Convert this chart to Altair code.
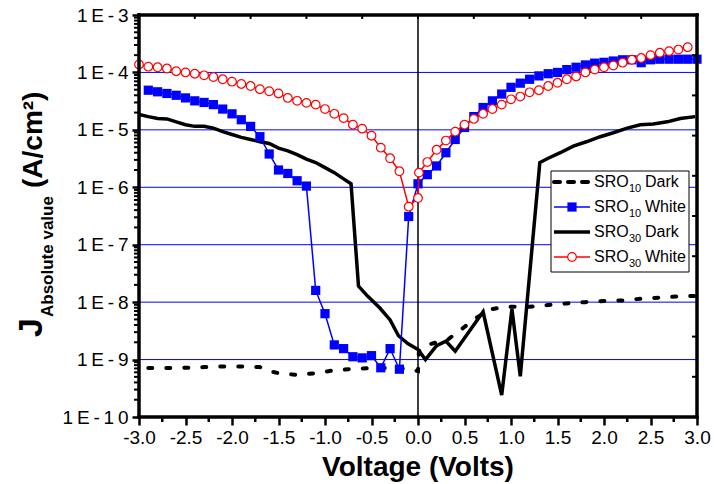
import altair as alt
import pandas as pd

# ---------------- data ----------------
v_sro10_dark = [-2.9, -2.7, -2.5, -2.3, -2.1, -1.9, -1.7, -1.6, -1.5, -1.3, -1.1, -0.9,
                -0.7, -0.5, -0.3, -0.1, 0.0, 0.01, 0.1, 0.2, 0.3, 0.4, 0.5, 0.6, 0.7,
                0.8, 0.9, 1.0, 1.2, 1.4, 1.6, 1.8, 2.0, 2.2, 2.4, 2.6, 2.8, 3.0]
j_sro10_dark = [7.1e-10, 7.1e-10, 7.2e-10, 7.4e-10, 7.6e-10, 7.6e-10, 7.4e-10, 6.3e-10, 5.8e-10,
                5.4e-10, 5.8e-10, 6.5e-10, 6.9e-10, 7.1e-10, 7.1e-10, 6.9e-10, 6.3e-10, 1.4e-9,
                1.8e-9, 2.0e-9, 2.1e-9, 2.8e-9, 3.7e-9, 5.0e-9, 6.3e-9, 7.6e-9, 8.1e-9,
                8.3e-9, 8.3e-9, 8.9e-9, 9.5e-9, 1.0e-8, 1.05e-8, 1.07e-8, 1.15e-8, 1.2e-8,
                1.26e-8, 1.29e-8]

v_sro10_white = [-2.9, -2.8, -2.7, -2.6, -2.5, -2.4, -2.3, -2.2, -2.1, -2.0, -1.9, -1.8, -1.7,
                 -1.6, -1.5, -1.4, -1.3, -1.2, -1.1, -1.0, -0.9, -0.8, -0.7, -0.6, -0.5, -0.4,
                 -0.3, -0.2, -0.1, 0.0, 0.1, 0.2, 0.3, 0.4, 0.5, 0.6, 0.7, 0.8, 0.9, 1.0, 1.1,
                 1.2, 1.3, 1.4, 1.5, 1.6, 1.7, 1.8, 1.9, 2.0, 2.1, 2.2, 2.3, 2.4, 2.5, 2.6,
                 2.7, 2.8, 2.9, 3.0]
j_sro10_white = [4.9e-5, 4.6e-5, 4.3e-5, 4.0e-5, 3.6e-5, 3.2e-5, 3.0e-5, 2.75e-5, 2.3e-5,
                 1.9e-5, 1.5e-5, 1.15e-5, 7.6e-6, 3.8e-6, 2.0e-6, 1.74e-6, 1.3e-6, 1.05e-6,
                 1.6e-8, 6.3e-9, 1.8e-9, 1.55e-9, 1.12e-9, 1.07e-9, 1.17e-9, 7.2e-10, 1.55e-9,
                 6.8e-10, 3.1e-7, 1.15e-6, 1.66e-6, 2.35e-6, 4.0e-6, 6.8e-6, 1.1e-5, 1.7e-5,
                 2.45e-5, 3.2e-5, 4.2e-5, 5.5e-5, 6.5e-5, 7.6e-5, 8.7e-5, 9.5e-5, 1.0e-4,
                 1.12e-4, 1.23e-4, 1.35e-4, 1.45e-4, 1.5e-4, 1.58e-4, 1.66e-4, 1.66e-4,
                 1.48e-4, 1.66e-4, 1.7e-4, 1.7e-4, 1.7e-4, 1.7e-4, 1.7e-4]

v_sro30_dark = [-3.0, -2.9, -2.8, -2.7, -2.6, -2.5, -2.4, -2.3, -2.2, -2.1, -2.0, -1.9, -1.8,
                -1.7, -1.6, -1.5, -1.4, -1.3, -1.2, -1.1, -1.0, -0.9, -0.8, -0.72, -0.64,
                -0.54, -0.41, -0.3, -0.21, -0.11, 0.0, 0.08, 0.2, 0.3, 0.4, 0.7, 0.9, 1.01,
                1.1, 1.31, 1.4, 1.53, 1.67, 1.81, 1.96, 2.1, 2.25, 2.39, 2.53, 2.68, 2.82,
                2.98]
j_sro30_dark = [1.86e-5, 1.7e-5, 1.58e-5, 1.55e-5, 1.38e-5, 1.23e-5, 1.15e-5, 1.15e-5, 1.07e-5,
                9.3e-6, 8.3e-6, 7.4e-6, 6.8e-6, 6.2e-6, 5.8e-6, 4.8e-6, 4.3e-6, 3.7e-6,
                3.1e-6, 2.7e-6, 2.2e-6, 1.8e-6, 1.4e-6, 1.15e-6, 1.9e-8, 1.26e-8, 7.9e-9,
                4.9e-9, 2.6e-9, 1.9e-9, 1.5e-9, 1.0e-9, 1.75e-9, 2.1e-9, 1.4e-9, 6.8e-9,
                2.4e-10, 7.6e-9, 5.1e-10, 2.7e-6, 3.2e-6, 4.0e-6, 5.2e-6, 6.2e-6, 7.6e-6,
                8.9e-6, 1.07e-5, 1.23e-5, 1.26e-5, 1.38e-5, 1.58e-5, 1.7e-5]

v_sro30_white = [-3.0, -2.9, -2.8, -2.7, -2.6, -2.5, -2.4, -2.3, -2.2, -2.1, -2.0, -1.9, -1.8,
                 -1.7, -1.6, -1.5, -1.4, -1.3, -1.2, -1.1, -1.0, -0.9, -0.8, -0.7, -0.6, -0.5,
                 -0.4, -0.3, -0.2, -0.1, 0.0, 0.01, 0.1, 0.2, 0.3, 0.4, 0.5, 0.6, 0.7, 0.8,
                 0.9, 1.0, 1.1, 1.2, 1.3, 1.4, 1.5, 1.6, 1.7, 1.8, 1.9, 2.0, 2.1, 2.2, 2.3,
                 2.4, 2.5, 2.6, 2.7, 2.8, 2.9]
j_sro30_white = [1.38e-4, 1.26e-4, 1.23e-4, 1.17e-4, 1.05e-4, 1.0e-4, 9.5e-5, 8.9e-5, 8.3e-5,
                 7.6e-5, 6.9e-5, 6.3e-5, 5.8e-5, 5.1e-5, 4.7e-5, 4.3e-5, 3.6e-5, 3.2e-5,
                 2.95e-5, 2.75e-5, 2.3e-5, 1.9e-5, 1.6e-5, 1.23e-5, 1.05e-5, 7.9e-6, 4.9e-6,
                 3.2e-6, 1.9e-6, 4.6e-7, 6.5e-7, 1.8e-6, 2.75e-6, 4.5e-6, 6.5e-6, 9.3e-6,
                 1.23e-5, 1.55e-5, 1.9e-5, 2.3e-5, 2.75e-5, 3.4e-5, 3.8e-5, 4.5e-5, 4.9e-5,
                 5.8e-5, 6.6e-5, 7.6e-5, 8.5e-5, 1.0e-4, 1.12e-4, 1.23e-4, 1.32e-4, 1.48e-4,
                 1.66e-4, 1.78e-4, 2.0e-4, 2.2e-4, 2.35e-4, 2.5e-4, 2.75e-4]

x_tick_labels = [-3.0, -2.5, -2.0, -1.5, -1.0, -0.5, 0.0, 0.5, 1.0, 1.5, 2.0, 2.5, 3.0]
x_minor = [-2.75, -2.25, -1.75, -1.25, -0.75, -0.25, 0.25, 0.75, 1.25, 1.75, 2.25, 2.75]
x_top_ticks = [-2.4, -1.8, -1.2, -0.6, 0.0, 0.6, 1.2, 1.8, 2.4]
y_tick_labels = [1e-10, 1e-9, 1e-8, 1e-7, 1e-6, 1e-5, 1e-4, 1e-3]
y_grid = [1e-9, 1e-8, 1e-7, 1e-6, 1e-5, 1e-4]
y_minor = [k * d for d in [1e-10, 1e-9, 1e-8, 1e-7, 1e-6, 1e-5, 1e-4] for k in range(2, 10)]
y_right_ticks = [10 ** (-3 - 0.7 * k) for k in range(1, 10)]

legend_entries = [("10", "Dark"), ("10", "White"), ("30", "Dark"), ("30", "White")]

# ---------------- build tables ----------------
def table(vs, js):
    return pd.DataFrame({"V": vs, "J": js, "order": list(range(len(vs)))})

d10d = table(v_sro10_dark, j_sro10_dark)
d10w = table(v_sro10_white, j_sro10_white)
d30d = table(v_sro30_dark, j_sro30_dark)
d30w = table(v_sro30_white, j_sro30_white)

W, H = 558, 402
BLUE = "#0000ff"
FONT = "Liberation Sans"

xs = alt.Scale(domain=[-3, 3], nice=False, zero=False)
ys = alt.Scale(type="log", domain=[1e-10, 1e-3], nice=False)

xa = alt.Axis(values=x_tick_labels, title=None, grid=False, domain=False,
              labelExpr="(datum.value < 0 ? '-' : '') + format(abs(datum.value), '.1f')",
              tickSize=8, tickWidth=2.5, tickColor="black", labelColor="black",
              labelFontSize=19, labelFont=FONT, labelPadding=3, labelFlush=False,
              labelOverlap=False)
ya = alt.Axis(values=y_tick_labels, title=None, grid=False, domain=False,
              labelExpr="join(split('1E' + round(log(datum.value) / LN10), ''), '\u2009')",
              tickSize=7, tickWidth=2.5, tickColor="black", labelColor="black",
              labelFontSize=19, labelFont=FONT, labelPadding=4, labelOverlap=False)

X = alt.X("V:Q", scale=xs, axis=xa)
Y = alt.Y("J:Q", scale=ys, axis=ya)

one = pd.DataFrame({"a": [0]})

layers = []

# grid lines and zero line
layers.append(alt.Chart(pd.DataFrame({"J": y_grid})).mark_rule(color=BLUE, strokeWidth=1)
              .encode(y=Y, x=alt.value(0), x2=alt.value(W)))
layers.append(alt.Chart(pd.DataFrame({"V": [0.0]})).mark_rule(color="black", strokeWidth=1.5)
              .encode(x=X, y=alt.value(0), y2=alt.value(H)))

# data
layers.append(alt.Chart(d10d).mark_line(color="black", strokeWidth=4, strokeDash=[4, 14],
                                        strokeCap="round", clip=True)
              .encode(x=X, y=Y, order="order:Q"))
layers.append(alt.Chart(d30d).mark_line(color="black", strokeWidth=3.5, clip=True)
              .encode(x=X, y=Y, order="order:Q"))
layers.append(alt.Chart(d10w).mark_line(color=BLUE, strokeWidth=1.5, clip=True)
              .encode(x=X, y=Y, order="order:Q"))
layers.append(alt.Chart(d10w).mark_point(shape="square", filled=True, color=BLUE, size=85,
                                         opacity=1)
              .encode(x=X, y=Y))
layers.append(alt.Chart(d30w).mark_line(color="red", strokeWidth=1.5, clip=True)
              .encode(x=X, y=Y, order="order:Q"))
layers.append(alt.Chart(d30w).mark_point(shape="circle", filled=True, fill="white",
                                         stroke="red", strokeWidth=1.2, size=75, opacity=1)
              .encode(x=X, y=Y))

# minor / secondary ticks
layers.append(alt.Chart(pd.DataFrame({"J": y_minor})).mark_rule(color="black", strokeWidth=2)
              .encode(y=Y, x=alt.value(-5), x2=alt.value(0)))
layers.append(alt.Chart(pd.DataFrame({"V": x_minor})).mark_rule(color="black", strokeWidth=2.5)
              .encode(x=X, y=alt.value(H), y2=alt.value(H + 5)))
layers.append(alt.Chart(pd.DataFrame({"V": x_top_ticks})).mark_rule(color="black", strokeWidth=2)
              .encode(x=X, y=alt.value(0), y2=alt.value(4)))
layers.append(alt.Chart(pd.DataFrame({"J": y_right_ticks})).mark_rule(color="black", strokeWidth=2)
              .encode(y=Y, x=alt.value(W - 5), x2=alt.value(W)))

# frame
for enc in [dict(x=alt.value(0), x2=alt.value(W), y=alt.value(0)),
            dict(x=alt.value(0), x2=alt.value(W), y=alt.value(H)),
            dict(y=alt.value(0), y2=alt.value(H), x=alt.value(0)),
            dict(y=alt.value(0), y2=alt.value(H), x=alt.value(W))]:
    layers.append(alt.Chart(one).mark_rule(color="black", strokeWidth=3.5, strokeCap="square")
                  .encode(**enc))

# legend
LX0, LX1, LY0, LY1 = 412, 550, 156, 257
layers.append(alt.Chart(one).mark_rect(fill="white", stroke="black", strokeWidth=1)
              .encode(x=alt.value(LX0), x2=alt.value(LX1), y=alt.value(LY0), y2=alt.value(LY1)))
for i, (sub, suffix) in enumerate(legend_entries):
    by = 172 + 25 * i
    sy = by - 5
    if i == 0:
        sym = alt.Chart(one).mark_rule(color="black", strokeWidth=4, strokeDash=[6, 8],
                                       strokeCap="round")
    elif i == 1:
        sym = alt.Chart(one).mark_rule(color=BLUE, strokeWidth=1.5)
    elif i == 2:
        sym = alt.Chart(one).mark_rule(color="black", strokeWidth=3.5)
    else:
        sym = alt.Chart(one).mark_rule(color="red", strokeWidth=1.5)
    layers.append(sym.encode(x=alt.value(LX0 + 3), x2=alt.value(LX0 + 39), y=alt.value(sy)))
    if i == 1:
        layers.append(alt.Chart(one).mark_point(shape="square", filled=True, color=BLUE,
                                                size=85, opacity=1)
                      .encode(x=alt.value(LX0 + 21), y=alt.value(sy)))
    if i == 3:
        layers.append(alt.Chart(one).mark_point(shape="circle", filled=True, fill="white",
                                                stroke="red", strokeWidth=1.2, size=75,
                                                opacity=1)
                      .encode(x=alt.value(LX0 + 21), y=alt.value(sy)))
    layers.append(alt.Chart(one).mark_text(text="SRO", align="left", baseline="alphabetic",
                                           fontSize=16, font=FONT, color="black")
                  .encode(x=alt.value(455), y=alt.value(by)))
    layers.append(alt.Chart(one).mark_text(text=sub, align="left", baseline="alphabetic",
                                           fontSize=11, font=FONT, color="black")
                  .encode(x=alt.value(490), y=alt.value(by + 5)))
    layers.append(alt.Chart(one).mark_text(text=suffix, align="left", baseline="alphabetic",
                                           fontSize=16, font=FONT, color="black")
                  .encode(x=alt.value(506), y=alt.value(by)))

# axis titles
layers.append(alt.Chart(one).mark_text(text="J", angle=270, align="left", baseline="alphabetic",
                                       fontSize=34, fontWeight="bold", font=FONT, color="black")
              .encode(x=alt.value(-97), y=alt.value(322)))
layers.append(alt.Chart(one).mark_text(text="Absolute value", angle=270, align="left",
                                       baseline="alphabetic", fontSize=17, fontWeight="bold",
                                       font=FONT, color="black")
              .encode(x=alt.value(-86), y=alt.value(302)))
layers.append(alt.Chart(one).mark_text(text="(A/cm²)", angle=270, align="left",
                                       baseline="alphabetic", fontSize=28, fontWeight="bold",
                                       font=FONT, color="black")
              .encode(x=alt.value(-97), y=alt.value(173)))
layers.append(alt.Chart(one).mark_text(text="Voltage (Volts)", align="center",
                                       baseline="alphabetic", fontSize=28, fontWeight="bold",
                                       font=FONT, color="black")
              .encode(x=alt.value(W / 2), y=alt.value(461)))

chart = alt.layer(*layers).properties(
    width=W, height=H,
    autosize=alt.AutoSizeParams(type="none"),
    padding={"left": 139, "top": 15, "right": 17, "bottom": 67},
    background="white",
).configure_view(stroke=None).configure(font=FONT)

chart.save("out.html", embed_options={"renderer": "svg", "actions": False})
